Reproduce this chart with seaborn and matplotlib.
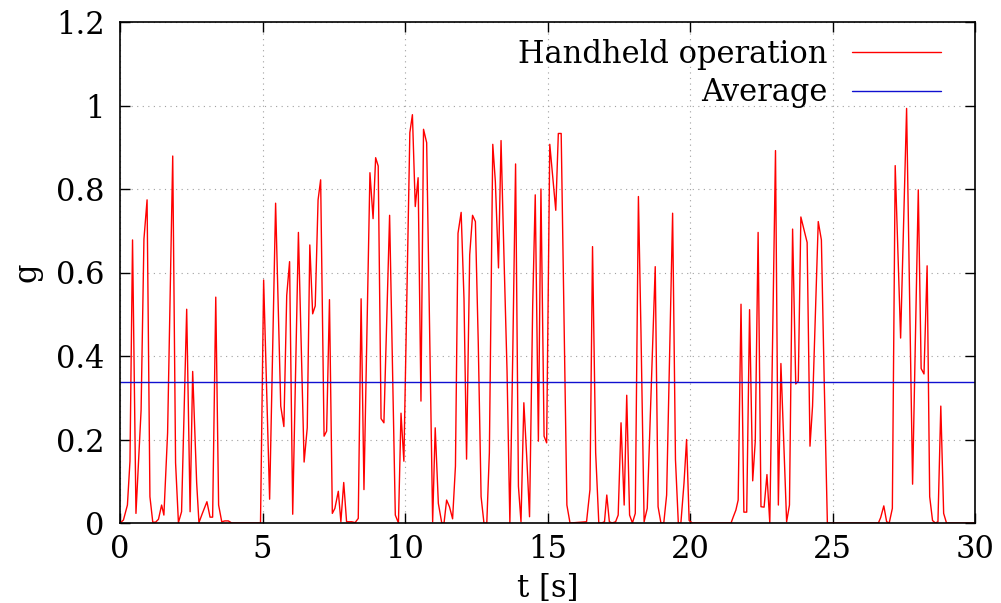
import numpy as np
import pandas as pd
import matplotlib
matplotlib.use("Agg")
import matplotlib.pyplot as plt
import seaborn as sns

# ---- data ----
t_s = [0.00, 0.12, 0.26, 0.35, 0.44, 0.56, 0.74, 0.84, 0.95, 1.05, 1.15, 1.25, 1.35, 1.46, 1.54,
       1.67, 1.85, 1.95, 2.05, 2.16, 2.34, 2.46, 2.55, 2.69, 2.77, 2.89, 3.05, 3.16, 3.25, 3.36,
       3.46, 3.57, 3.68, 3.80, 3.92, 4.93, 5.04, 5.25, 5.46, 5.64, 5.75, 5.85, 5.95, 6.06, 6.26,
       6.46, 6.57, 6.66, 6.76, 6.85, 6.95, 7.04, 7.16, 7.25, 7.35, 7.45, 7.54, 7.66, 7.75, 7.85,
       7.95, 8.13, 8.25, 8.36, 8.46, 8.56, 8.77, 8.88, 8.97, 9.06, 9.16, 9.26, 9.46, 9.66, 9.77,
       9.86, 9.96, 10.17, 10.26, 10.36, 10.46, 10.56, 10.65, 10.76, 10.97, 11.06, 11.17, 11.29,
       11.37, 11.46, 11.56, 11.67, 11.77, 11.86, 11.97, 12.07, 12.16, 12.27, 12.37, 12.47, 12.57,
       12.67, 12.77, 12.87, 12.96, 13.08, 13.17, 13.28, 13.37, 13.47, 13.58, 13.68, 13.78, 13.88,
       13.98, 14.07, 14.17, 14.27, 14.37, 14.48, 14.57, 14.68, 14.77, 14.88, 14.97, 15.08, 15.29,
       15.38, 15.48, 15.68, 15.79, 16.37, 16.49, 16.58, 16.69, 16.80, 16.90, 17.00, 17.08, 17.17,
       17.27, 17.39, 17.48, 17.58, 17.69, 17.78, 17.88, 17.98, 18.08, 18.19, 18.28, 18.39, 18.50,
       18.78, 18.88, 18.98, 19.08, 19.18, 19.39, 19.49, 19.59, 19.68, 19.79, 19.88, 19.97, 20.08,
       21.44, 21.52, 21.61, 21.69, 21.79, 21.89, 21.99, 22.09, 22.20, 22.29, 22.39, 22.49, 22.60,
       22.70, 22.80, 23.00, 23.10, 23.19, 23.30, 23.39, 23.49, 23.60, 23.71, 23.80, 23.89, 24.11,
       24.21, 24.30, 24.50, 24.61, 24.71, 24.82, 26.61, 26.69, 26.80, 26.90, 26.99, 27.10, 27.20,
       27.39, 27.60, 27.81, 28.01, 28.11, 28.21, 28.32, 28.41, 28.51, 28.61, 28.70, 28.80, 28.90,
       29.00, 30.00]
g_handheld = [0.000, 0.007, 0.043, 0.148, 0.678, 0.023, 0.270, 0.680, 0.774, 0.063, 0.002, 0.002,
              0.009, 0.043, 0.019, 0.216, 0.879, 0.144, 0.001, 0.027, 0.512, 0.027, 0.363, 0.096,
              0.001, 0.023, 0.051, 0.014, 0.014, 0.541, 0.043, 0.003, 0.005, 0.005, 0.000, 0.000,
              0.582, 0.057, 0.766, 0.280, 0.231, 0.545, 0.626, 0.021, 0.696, 0.146, 0.228, 0.666,
              0.501, 0.520, 0.774, 0.822, 0.208, 0.220, 0.535, 0.023, 0.035, 0.076, 0.003, 0.097,
              0.003, 0.003, 0.001, 0.011, 0.537, 0.080, 0.839, 0.729, 0.875, 0.855, 0.250, 0.240,
              0.737, 0.019, 0.000, 0.263, 0.148, 0.935, 0.978, 0.758, 0.827, 0.292, 0.943, 0.911,
              0.003, 0.228, 0.047, 0.000, 0.000, 0.055, 0.039, 0.010, 0.136, 0.694, 0.744, 0.537,
              0.153, 0.642, 0.737, 0.722, 0.433, 0.063, 0.000, 0.000, 0.168, 0.907, 0.818, 0.611,
              0.916, 0.646, 0.365, 0.000, 0.400, 0.860, 0.088, 0.003, 0.288, 0.160, 0.015, 0.520,
              0.786, 0.196, 0.800, 0.208, 0.192, 0.907, 0.749, 0.933, 0.933, 0.043, 0.000, 0.003,
              0.080, 0.662, 0.168, 0.000, 0.000, 0.003, 0.067, 0.003, 0.000, 0.003, 0.019, 0.240,
              0.043, 0.306, 0.019, 0.000, 0.023, 0.782, 0.457, 0.003, 0.035, 0.614, 0.039, 0.000,
              0.000, 0.067, 0.742, 0.152, 0.000, 0.000, 0.096, 0.200, 0.006, 0.000, 0.000, 0.015,
              0.031, 0.055, 0.524, 0.026, 0.026, 0.511, 0.101, 0.196, 0.696, 0.039, 0.038, 0.116,
              0.000, 0.892, 0.043, 0.382, 0.176, 0.003, 0.043, 0.704, 0.333, 0.340, 0.733, 0.672,
              0.184, 0.280, 0.722, 0.678, 0.337, 0.000, 0.000, 0.013, 0.041, 0.003, 0.000, 0.035,
              0.856, 0.443, 0.993, 0.093, 0.798, 0.370, 0.357, 0.616, 0.063, 0.006, 0.000, 0.003,
              0.280, 0.023, 0.000, 0.000]
avg_t = [0.0, 30.0]
avg_g = [0.338, 0.338]

x_ticks = [0, 5, 10, 15, 20, 25, 30]
y_ticks = [0, 0.2, 0.4, 0.6, 0.8, 1.0, 1.2]
y_ticklabels = ["0", "0.2", "0.4", "0.6", "0.8", "1", "1.2"]

sns.set_theme(style="ticks")
plt.rcParams["font.family"] = ["DejaVu Serif"]
plt.rcParams["text.color"] = "black"
plt.rcParams["axes.labelcolor"] = "black"
plt.rcParams["xtick.color"] = "black"
plt.rcParams["ytick.color"] = "black"
FS = 22

fig = plt.figure(figsize=(10.01, 6.03), dpi=100)
ax = fig.add_axes([120 / 1001, 80 / 603, 855 / 1001, 501 / 603])

df = pd.DataFrame({"t": t_s, "g": g_handheld})
sns.lineplot(data=df, x="t", y="g", ax=ax, color="red", lw=1.0,
             estimator=None, sort=False, label="Handheld operation")
sns.lineplot(x=avg_t, y=avg_g, ax=ax, color="#1010d0", lw=1.0,
             estimator=None, sort=False, label="Average")

ax.set_xlim(0, 30)
ax.set_ylim(0, 1.2)
ax.set_xticks(x_ticks)
ax.set_xticklabels([str(v) for v in x_ticks], fontsize=FS)
ax.set_yticks(y_ticks)
ax.set_yticklabels(y_ticklabels, fontsize=FS)
ax.tick_params(direction="in", length=7, width=1.0, top=True, right=True,
               color="black", labelcolor="black")
ax.tick_params(axis="x", pad=8)
ax.tick_params(axis="y", pad=11)
ax.grid(True, color="#a0a0a0", lw=0.8, linestyle=(0, (1, 4)))
for s in ax.spines.values():
    s.set_linewidth(1.2)
    s.set_color("black")
    s.set_visible(True)

ax.set_xlabel("t [s]", fontsize=FS, labelpad=6)
ax.set_ylabel("g", fontsize=FS, labelpad=10)

leg = ax.legend(loc="upper right", bbox_to_anchor=(0.96, 0.966), frameon=False,
                markerfirst=False, fontsize=FS, handlelength=2.9, handletextpad=0.8,
                labelspacing=0.24, borderaxespad=0, borderpad=0)
for txt in leg.get_texts():
    txt.set_ha("right")
    txt.set_color("black")

fig.savefig("out.png", dpi=100)
